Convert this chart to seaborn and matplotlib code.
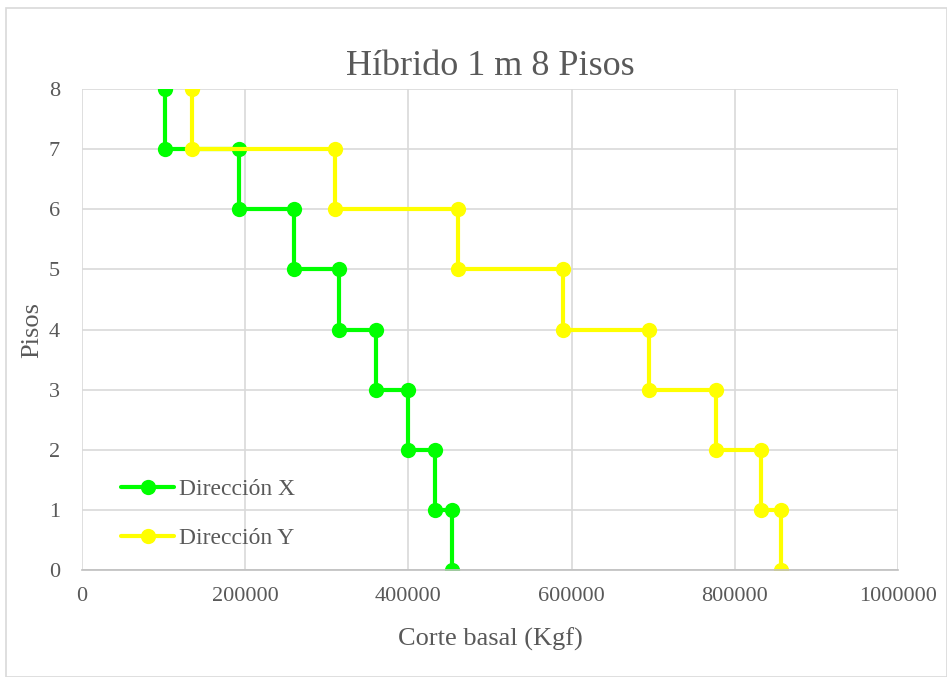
import matplotlib
matplotlib.use("Agg")
import matplotlib.pyplot as plt
import matplotlib.patches as mpatches
import matplotlib.ticker as mticker
import seaborn as sns
import pandas as pd

# piso levels of the step curve (each storey appears twice)
PISOS = [0, 1, 1, 2, 2, 3, 3, 4, 4, 5, 5, 6, 6, 7, 7, 8]
CORTE_X = [454000, 454000, 432000, 432000, 400000, 400000, 360500, 360500,
           315000, 315000, 260000, 260000, 192500, 192500, 102000, 102000]
CORTE_Y = [856500, 856500, 832000, 832000, 776500, 776500, 694500, 694500,
           590000, 590000, 461000, 461000, 310500, 310500, 135000, 135000]
SERIES = ["Dirección X", "Dirección Y"]
COLORS = ["#00FF00", "#FFFF00"]

df = pd.concat([
    pd.DataFrame({"Corte": CORTE_X, "Piso": PISOS, "Serie": SERIES[0]}),
    pd.DataFrame({"Corte": CORTE_Y, "Piso": PISOS, "Serie": SERIES[1]}),
])

sns.set_style("white")
plt.rcParams["font.family"] = ["Liberation Serif", "DejaVu Serif"]
TXT = "#595959"

fig = plt.figure(figsize=(9.47, 6.77), dpi=100)
ax = fig.add_axes([0.0866, 0.158, 0.8617, 0.7105])

sns.lineplot(data=df, x="Corte", y="Piso", hue="Serie", palette=COLORS,
             estimator=None, sort=False, marker="o", markersize=11,
             markeredgewidth=0, linewidth=3, ax=ax)

ax.set_xlim(0, 1000000)
ax.set_ylim(0, 8)
ax.set_xticks(range(0, 1000001, 200000))
ax.set_yticks(range(0, 9))
ax.xaxis.set_major_formatter(mticker.StrMethodFormatter("{x:.0f}"))
ax.grid(True, color="#D9D9D9", linewidth=1.2)
ax.set_axisbelow(True)
for s in ["top", "right"]:
    ax.spines[s].set_visible(False)
ax.spines["left"].set_visible(False)
ax.spines["bottom"].set_color("#BFBFBF")
ax.spines["bottom"].set_linewidth(1.2)
ax.tick_params(axis="both", length=0, labelsize=16, colors=TXT)
ax.tick_params(axis="x", pad=12)
ax.tick_params(axis="y", pad=16)

ax.set_xlabel("Corte basal (Kgf)", fontsize=19, color=TXT, labelpad=16)
ax.set_ylabel("Pisos", fontsize=19, color=TXT, labelpad=4)
ax.set_title("Híbrido 1 m 8 Pisos", fontsize=26, color=TXT, pad=10)

leg = ax.legend(loc="lower left", bbox_to_anchor=(0.022, 0.0), frameon=False,
                fontsize=17, handlelength=2.25, labelspacing=1.15,
                handletextpad=0.2, labelcolor=TXT)

fig.patches.append(mpatches.Rectangle((0.006, 0.0), 0.994, 0.988,
                                      transform=fig.transFigure, fill=False,
                                      edgecolor="#D9D9D9", linewidth=1.2))

fig.savefig("out.png", dpi=100)
